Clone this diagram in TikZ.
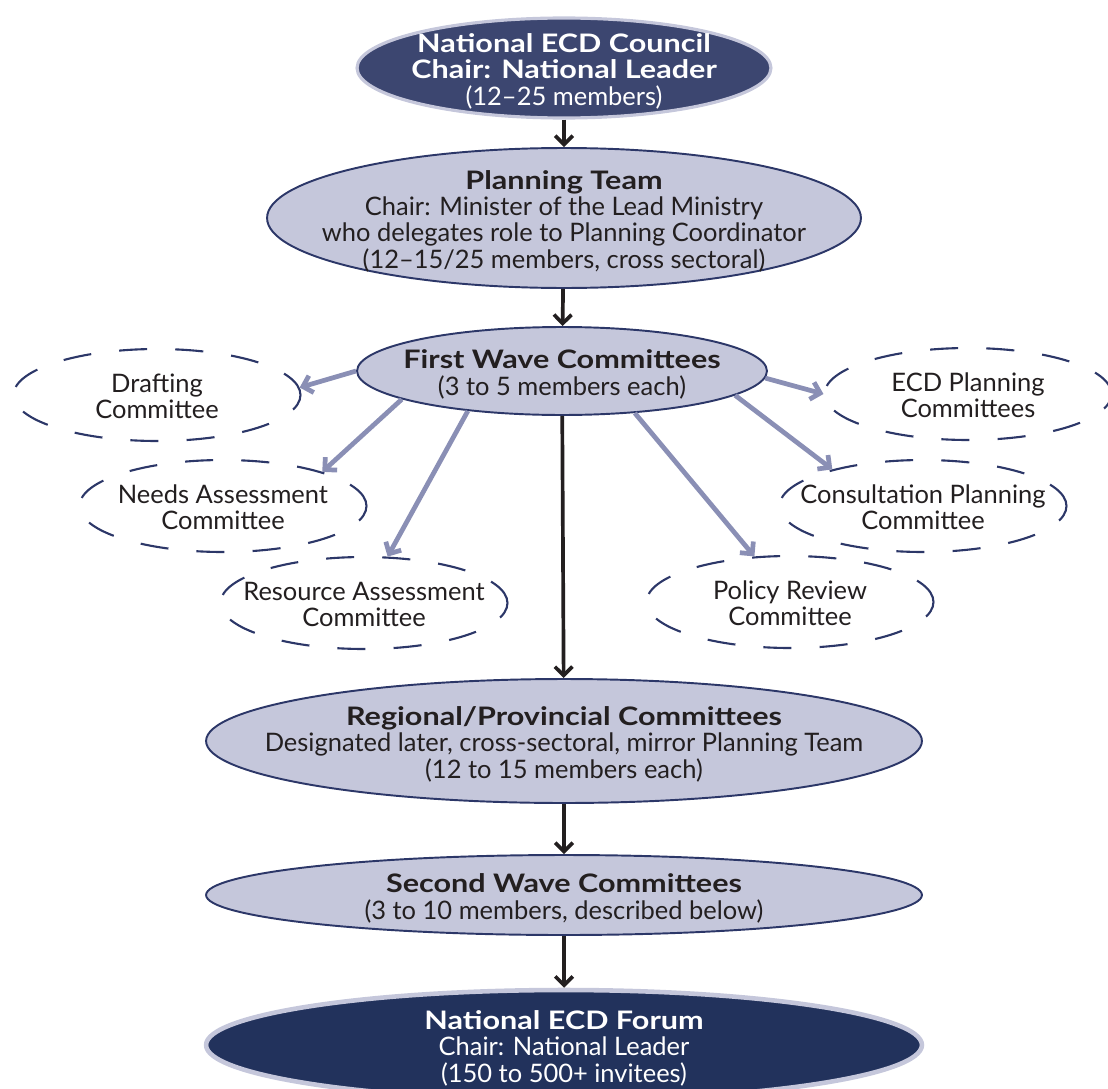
\documentclass[tikz,border=0pt]{standalone}
\usepackage{fontspec}
\setmainfont{Lato}[BoldFeatures={FakeStretch=1.2}]
\usetikzlibrary{shapes.geometric}
\usetikzlibrary{arrows.meta}

\definecolor{navy}{HTML}{3C4670}
\definecolor{deepnavy}{HTML}{22325C}
\definecolor{lilac}{HTML}{C5C7DB}
\definecolor{rim}{HTML}{2C3768}
\definecolor{waveblue}{HTML}{8A8FB5}
\definecolor{ink}{HTML}{231F20}

\newcommand{\ovtext}[1]{\makebox[0pt]{\raisebox{\dimexpr(\depth-\height)/2-3pt\relax}[0pt][0pt]{\begin{tabular}{@{}c@{}}#1\end{tabular}}}}

\tikzset{
  oval/.style={ellipse, inner sep=0pt, text=ink, font=\fontsize{14.5}{14.3}\selectfont},
  lightoval/.style={oval, fill=lilac, draw=rim, line width=1.1pt},
  darkoval/.style={oval, text=white, fill=navy, draw=lilac, line width=1.8pt},
  dashoval/.style={oval, draw=rim, line width=1.2pt, dash pattern=on 16pt off 16pt,
    minimum width=5.74cm, minimum height=1.84cm},
  mainarrow/.style={draw=ink, line width=2.1pt, -{Straight Barb[length=5pt,width=10pt]}},
  wavearrow/.style={draw=waveblue, line width=2.7pt, -{Straight Barb[length=5pt,width=10pt]}}
}

\begin{document}
\begin{tikzpicture}[x=0.02cm, y=-0.02cm]

\useasboundingbox (0,0) rectangle (1108,1088);

\node[darkoval, minimum width=8.28cm, minimum height=2cm] (council) at (564,68)
  {\ovtext{\textbf{National ECD Council}\\ \textbf{Chair: National Leader}\\ (12\textendash25 members)}};
\node[lightoval, minimum width=11.88cm, minimum height=2.8cm] (plan) at (564,218)
  {\ovtext{\textbf{Planning Team}\\ Chair: Minister of the Lead Ministry\\ who delegates role to Planning Coordinator\\ (12\textendash15/25 members, cross sectoral)}};
\node[lightoval, minimum width=8.2cm, minimum height=1.76cm] (first) at (562,371)
  {\ovtext{\textbf{First Wave Committees}\\ (3 to 5 members each)}};

\node[dashoval] (draft) at (157,395) {\ovtext{Drafting\\ Committee}};
\node[dashoval] (needs) at (223,506) {\ovtext{Needs Assessment\\ Committee}};
\node[dashoval] (resource) at (364,603) {\ovtext{Resource Assessment\\ Committee}};
\node[dashoval] (ecd) at (968,394) {\ovtext{ECD Planning\\ Committees}};
\node[dashoval] (consult) at (923,506) {\ovtext{Consultation Planning\\ Committee}};
\node[dashoval] (policy) at (790,602) {\ovtext{Policy Review\\ Committee}};

\node[lightoval, minimum width=14.32cm, minimum height=2.48cm] (regional) at (564,741)
  {\ovtext{\textbf{Regional/Provincial Committees}\\ Designated later, cross-sectoral, mirror Planning Team\\ (12 to 15 members each)}};
\node[lightoval, minimum width=14.32cm, minimum height=1.6cm] (second) at (564,895)
  {\ovtext{\textbf{Second Wave Committees}\\ (3 to 10 members, described below)}};
\node[darkoval, fill=deepnavy, line width=2.6pt, minimum width=14.32cm, minimum height=2.2cm] (forum) at (564,1045)
  {\ovtext{\textbf{National ECD Forum}\\ Chair: National Leader\\ (150 to 500+ invitees)}};

\draw[mainarrow] (council) -- (plan);
\draw[mainarrow] (plan) -- (first);
\draw[mainarrow] (first) -- (regional);
\draw[mainarrow] (regional) -- (second);
\draw[mainarrow] (second) -- (forum);

\draw[wavearrow] (first.west) -- (draft.3);
\draw[wavearrow] (first.190) -- (needs.19);
\draw[wavearrow] (first.203) -- (resource.63);
\draw[wavearrow] (first.358) -- (ecd.west);
\draw[wavearrow] (first.352) -- (consult.158);
\draw[wavearrow] (first.330) -- (policy.128);

\end{tikzpicture}
\end{document}
